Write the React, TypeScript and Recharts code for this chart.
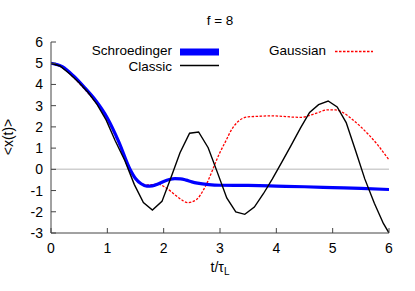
import React from "react";
import {
  LineChart,
  Line,
  XAxis,
  YAxis,
  ReferenceLine,
} from "recharts";

// time axis (t / tau_L)
const xTicks = [0, 1, 2, 3, 4, 5, 6];
const yTicks = [-3, -2, -1, 0, 1, 2, 3, 4, 5, 6];

// Schroedinger <x(t)>
const schroT = [0, 0.2, 0.4, 0.6, 0.8, 1.0, 1.2, 1.4, 1.5, 1.6, 1.7, 1.8, 1.9, 2.0, 2.1, 2.2, 2.3, 2.4, 2.5, 2.6, 2.8, 3.0, 3.5, 4.0, 4.5, 5.0, 5.5, 6.0];
const schroX = [5.0, 4.84, 4.4, 3.84, 3.22, 2.42, 1.32, 0.02, -0.43, -0.68, -0.79, -0.78, -0.69, -0.57, -0.48, -0.44, -0.45, -0.51, -0.59, -0.65, -0.72, -0.75, -0.76, -0.79, -0.82, -0.86, -0.9, -0.95];

// Classic trajectory (coarse sampling, drawn with corners)
const classicT = [0, 0.16, 0.33, 0.5, 0.66, 0.82, 0.98, 1.14, 1.31, 1.48, 1.64, 1.8, 1.97, 2.13, 2.29, 2.46, 2.62, 2.79, 2.95, 3.12, 3.28, 3.44, 3.61, 3.77, 3.93, 4.1, 4.26, 4.43, 4.59, 4.75, 4.92, 5.08, 5.24, 5.41, 5.57, 5.74, 5.9, 6.0];
const classicX = [5.0, 4.87, 4.5, 4.08, 3.62, 3.05, 2.32, 1.35, 0.42, -0.72, -1.57, -1.92, -1.51, -0.38, 0.78, 1.7, 1.76, 1.02, -0.12, -1.35, -2.01, -2.12, -1.78, -1.15, -0.45, 0.35, 1.12, 1.95, 2.68, 3.05, 3.22, 2.94, 2.2, 0.85, -0.45, -1.6, -2.55, -3.0];

// Gaussian approximation
const gaussT = [0, 0.2, 0.4, 0.6, 0.8, 1.0, 1.2, 1.4, 1.5, 1.6, 1.7, 1.8, 1.9, 2.0, 2.1, 2.2, 2.3, 2.43, 2.58, 2.7, 2.76, 2.85, 2.91, 3.0, 3.11, 3.2, 3.3, 3.4, 3.5, 3.7, 3.9, 4.1, 4.3, 4.45, 4.6, 4.75, 4.9, 5.05, 5.2, 5.35, 5.5, 5.65, 5.8, 5.9, 6.0];
const gaussX = [4.98, 4.8, 4.34, 3.77, 3.14, 2.34, 1.24, -0.06, -0.46, -0.68, -0.73, -0.72, -0.7, -0.8, -0.98, -1.2, -1.4, -1.57, -1.43, -1.0, -0.7, -0.15, 0.25, 0.8, 1.37, 1.85, 2.2, 2.4, 2.47, 2.5, 2.52, 2.5, 2.46, 2.45, 2.55, 2.68, 2.8, 2.8, 2.65, 2.35, 2.0, 1.6, 1.15, 0.8, 0.45];

const schroData = schroT.map((t, i) => ({ t, x: schroX[i] }));
const classicData = classicT.map((t, i) => ({ t, x: classicX[i] }));
const gaussData = gaussT.map((t, i) => ({ t, x: gaussX[i] }));

const FONT = '"Liberation Sans", Arial, Helvetica, sans-serif';
const AXIS = "#444";
const tickStyle = { fill: "#000", fontSize: 14, fontFamily: FONT };

export default function App() {
  return (
    <div style={{ position: "absolute", left: 0, top: 0, width: 415, height: 291, background: "#fff" }}>
      <LineChart
        width={415}
        height={291}
        margin={{ top: 42, right: 26, bottom: 28, left: 11 }}
      >
        <XAxis
          dataKey="t"
          type="number"
          domain={[0, 6]}
          ticks={xTicks}
          allowDataOverflow
          height={30}
          stroke={AXIS}
          tickSize={-5}
          tickMargin={15}
          tick={tickStyle}
        />
        <XAxis
          xAxisId="top"
          orientation="top"
          type="number"
          domain={[0, 6]}
          ticks={xTicks}
          allowDataOverflow
          height={0}
          stroke={AXIS}
          tickSize={-5}
          tickFormatter={() => ""}
        />
        <YAxis
          type="number"
          domain={[-3, 6]}
          ticks={yTicks}
          allowDataOverflow
          width={40}
          stroke={AXIS}
          tickSize={-5}
          tickMargin={13}
          tick={tickStyle}
        />
        <YAxis
          yAxisId="right"
          orientation="right"
          type="number"
          domain={[-3, 6]}
          ticks={yTicks}
          allowDataOverflow
          width={0}
          stroke={AXIS}
          tickSize={-5}
          tickFormatter={() => ""}
        />
        <ReferenceLine y={0} stroke="#cfcfcf" strokeWidth={1.5} />
        <Line
          data={gaussData}
          dataKey="x"
          type="monotone"
          stroke="#ff0000"
          strokeWidth={1.3}
          strokeDasharray="2.5 1.5"
          dot={false}
          isAnimationActive={false}
        />
        <Line
          data={schroData}
          dataKey="x"
          type="monotone"
          stroke="#0000ff"
          strokeWidth={3.2}
          dot={false}
          isAnimationActive={false}
        />
        <Line
          data={classicData}
          dataKey="x"
          type="linear"
          stroke="#000"
          strokeWidth={1.4}
          dot={false}
          isAnimationActive={false}
        />
      </LineChart>
      <svg
        width={415}
        height={291}
        style={{ position: "absolute", left: 0, top: 0, pointerEvents: "none" }}
        fontFamily={FONT}
        fontSize={14}
      >
        <text x={220} y={25} textAnchor="middle" fontSize={13.5}>f = 8</text>
        <text x={13} y={137} textAnchor="middle" transform="rotate(-90 13 137)">
          &lt;x(t)&gt;
        </text>
        <text x={220} y={272} textAnchor="middle">
          t/τ<tspan fontSize={10} dy={3}>L</tspan>
        </text>
        <text x={172} y={55} textAnchor="end" fontSize={13.5}>Schroedinger</text>
        <line x1={180} x2={219} y1={52} y2={52} stroke="#0000ff" strokeWidth={7} />
        <text x={172} y={70.5} textAnchor="end" fontSize={13.5}>Classic</text>
        <line x1={180} x2={219} y1={65.5} y2={65.5} stroke="#000" strokeWidth={1.4} />
        <text x={326} y={55} textAnchor="end" fontSize={13.5}>Gaussian</text>
        <line x1={335} x2={373} y1={51.5} y2={51.5} stroke="#ff0000" strokeWidth={1.3} strokeDasharray="2.5 1.5" />
      </svg>
    </div>
  );
}
